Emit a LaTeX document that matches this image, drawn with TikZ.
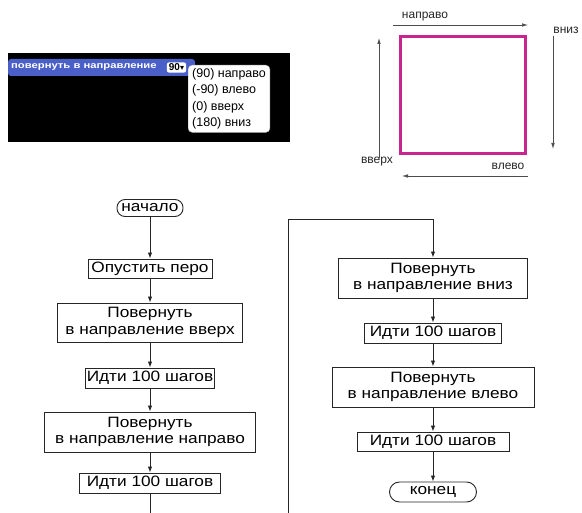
\documentclass[tikz,border=0pt]{standalone}
\usepackage{fontspec}
\setmainfont{Liberation Sans}
\newfontfamily\flowfont[FakeStretch=1.15]{Liberation Sans}
\newfontfamily\blkfont[FakeStretch=1.25]{Liberation Sans}
\newfontfamily\symfont{DejaVu Sans}
\usetikzlibrary{arrows.meta}
\definecolor{sqmag}{HTML}{C8268E}
\definecolor{scblue}{HTML}{4A5FC8}
\tikzset{
  px/.style={x=1pt,y=-1pt},
  fbox/.style={draw=black!85,line width=0.9pt,inner sep=1pt,align=center,font=\flowfont\fontsize{15}{16.5}\selectfont},
  term/.style={fbox,rounded corners=8pt},
  flow/.style={draw=black!85,line width=0.9pt,-{Latex[length=6pt,width=4.5pt]}},
  dirarrow/.style={draw=black!70,line width=0.6pt,-{Latex[length=6pt,width=3.5pt]}},
  lbl/.style={font=\fontsize{12}{14}\selectfont,text=black!85,inner sep=1pt},
}
\begin{document}
\begin{tikzpicture}[px]
\useasboundingbox (0,0) rectangle (582,513);
% Scratch panel
\fill[black] (8,53) rectangle (290,142);
\fill[scblue,rounded corners=3pt] (8,59) rectangle (195,76);
\node[anchor=west,text=white,font=\blkfont\fontsize{9}{10}\bfseries\selectfont,inner sep=0pt] (blk) at (11,67.5) {повернуть в направление};
\node[fill=white,rounded corners=2pt,inner xsep=2pt,inner ysep=1.5pt,font=\fontsize{10}{11}\bfseries\selectfont] (val) at (176.5,67.5) {90{\symfont\fontsize{8}{9}\selectfont▾}};
\node[fill=white,rounded corners=4pt,draw=black!30,anchor=north west,align=left,inner xsep=4pt,inner ysep=3pt,font=\fontsize{12.5}{16.5}\selectfont] (menu) at (188,65) {(90) направо\\(-90) влево\\(0) вверх\\(180) вниз};
% Square directions
\draw[sqmag,line width=3pt] (400,37) rectangle (525,154);
\node[lbl] (tr) at (425,17) {направо};
\node[lbl] (tdn) at (566,30) {вниз};
\node[lbl] (tup) at (377,162) {вверх};
\node[lbl] (tlf) at (508,166) {влево};
\coordinate (ar1) at (393,25); \coordinate (ar2) at (528,25);
\coordinate (ad1) at (553,36); \coordinate (ad2) at (553,149);
\coordinate (au1) at (379,158); \coordinate (au2) at (379,38);
\coordinate (al1) at (528,176); \coordinate (al2) at (402,176);
\draw[dirarrow] (ar1) -- (ar2);
\draw[dirarrow] (ad1) -- (ad2);
\draw[dirarrow] (au1) -- (au2);
\draw[dirarrow] (al1) -- (al2);
% Left flowchart
\node[term,minimum width=66pt,minimum height=17pt] (start) at (150,208) {начало};
\node[fbox,minimum width=124pt,minimum height=19pt] (pero) at (150,268.5) {Опустить перо};
\node[fbox,minimum width=185pt,minimum height=39pt] (up) at (150,322.5) {Повернуть\\в направление вверх};
\node[fbox,minimum width=123pt,minimum height=20pt] (go1) at (150,378) {Идти 100 шагов};
\node[fbox,minimum width=211pt,minimum height=40pt] (rt) at (150,432) {Повернуть\\в направление направо};
\node[fbox,minimum width=141pt,minimum height=20pt] (go2) at (150,483) {Идти 100 шагов};
\coordinate (b1) at (150,513);
\draw[flow] (start) -- (pero);
\draw[flow] (pero) -- (up);
\draw[flow] (up) -- (go1);
\draw[flow] (go1) -- (rt);
\draw[flow] (rt) -- (go2);
\draw[draw=black!85,line width=0.9pt] (go2) -- (b1);
% Right flowchart
\node[fbox,minimum width=189pt,minimum height=40pt] (dn) at (433,278) {Повернуть\\в направление вниз};
\node[fbox,minimum width=137pt,minimum height=20pt] (go3) at (433,333) {Идти 100 шагов};
\node[fbox,minimum width=202pt,minimum height=40pt] (lf) at (433,387) {Повернуть\\в направление влево};
\node[fbox,minimum width=152pt,minimum height=19pt] (go4) at (433,441.5) {Идти 100 шагов};
\node[term,rounded corners=10pt,minimum width=87pt,minimum height=20pt] (end) at (433,492) {конец};
\coordinate (c1) at (288,513);
\coordinate (c2) at (288,219);
\coordinate (c3) at (433,219);
\draw[flow] (c1) -- (c2) -- (c3) -- (dn);
\draw[flow] (dn) -- (go3);
\draw[flow] (go3) -- (lf);
\draw[flow] (lf) -- (go4);
\draw[flow] (go4) -- (end);
\end{tikzpicture}
\end{document}
